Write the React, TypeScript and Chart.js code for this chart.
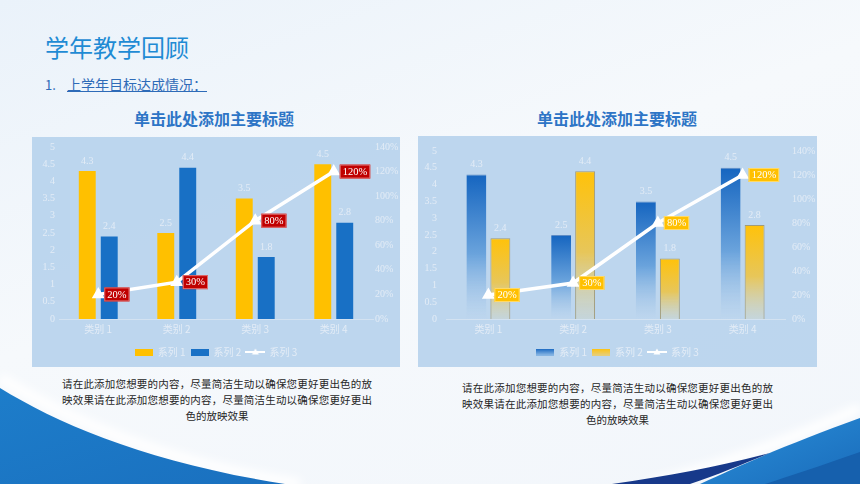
import React, { useEffect, useRef } from "react";
import { Chart, registerables } from "chart.js";
Chart.register(...registerables);

const categories = ["类别 1", "类别 2", "类别 3", "类别 4"];
const series1 = [4.3, 2.5, 3.5, 4.5];
const series2 = [2.4, 4.4, 1.8, 2.8];
const series3 = [20, 30, 80, 120];
const seriesNames = ["系列 1", "系列 2", "系列 3"];
const leftAxis = { min: 0, max: 5, step: 0.5 };
const rightAxis = { min: 0, max: 140, step: 20 };

const pageTitle = "学年教学回顾";
const subTitleNo = "1.";
const subTitle = "上学年目标达成情况：";
const chartTitle = "单击此处添加主要标题";
const descLines = [
  "请在此添加您想要的内容，尽量简洁生动以确保您更好更出色的放",
  "映效果请在此添加您想要的内容，尽量简洁生动以确保您更好更出",
  "色的放映效果",
];

const LIGHT = "#e3ecf6";
const TICK_FONT = { family: '"Liberation Serif", serif', size: 10 };
const CAT_FONT = { family: '"Noto Sans CJK SC", sans-serif', size: 10 };

function makeIcon(w: number, h: number, draw: (c: CanvasRenderingContext2D) => void) {
  const c = document.createElement("canvas");
  c.width = w;
  c.height = h;
  const ctx = c.getContext("2d")!;
  draw(ctx);
  return c;
}

function lineIcon() {
  return makeIcon(20, 8, (c) => {
    c.strokeStyle = "#ffffff";
    c.lineWidth = 2;
    c.beginPath();
    c.moveTo(0, 4);
    c.lineTo(20, 4);
    c.stroke();
    c.fillStyle = "#ffffff";
    c.beginPath();
    c.moveTo(10, 0.5);
    c.lineTo(13.5, 6.5);
    c.lineTo(6.5, 6.5);
    c.closePath();
    c.fill();
  });
}

const labelPlugin = {
  id: "valueLabels",
  afterDatasetsDraw(chart: any, _args: any, opts: any) {
    const ctx = chart.ctx;
    ctx.save();
    chart.data.datasets.forEach((ds: any, di: number) => {
      const meta = chart.getDatasetMeta(di);
      meta.data.forEach((el: any, i: number) => {
        const v = ds.data[i];
        if (ds.type === "line") {
          const text = v + "%";
          ctx.font = '10.5px "Liberation Serif", serif';
          const w = ctx.measureText(text).width + 6;
          const h = 14;
          const x = el.x + 6;
          const y = el.y - h / 2;
          ctx.fillStyle = opts.boxColor;
          ctx.fillRect(x, y, w, h);
          ctx.strokeStyle = opts.boxBorder;
          ctx.lineWidth = 1;
          ctx.strokeRect(x + 0.5, y + 0.5, w - 1, h - 1);
          ctx.fillStyle = "#ffffff";
          ctx.textAlign = "left";
          ctx.textBaseline = "middle";
          ctx.fillText(text, x + 3, el.y + 0.5);
        } else {
          ctx.font = '10px "Liberation Serif", serif';
          ctx.fillStyle = LIGHT;
          ctx.textAlign = "center";
          ctx.textBaseline = "middle";
          ctx.fillText(String(v), el.x, el.y - 10);
        }
      });
    });
    ctx.restore();
  },
};

type Variant = {
  width: number;
  height: number;
  leftW: number;
  rightW: number;
  top: number;
  leftPad: number;
  rightPad: number;
  catPct: number;
  barPct: number;
  gradient: boolean;
  boxColor: string;
  boxBorder: string;
};

function gradFill(context: any, top: string, mid: string, bottom: string) {
  const chart = context.chart;
  if (!chart.chartArea || context.raw === undefined) return top;
  const ys = chart.scales.y;
  const y0 = ys.getPixelForValue(context.raw);
  const y1 = ys.getPixelForValue(0);
  const g = chart.ctx.createLinearGradient(0, y0, 0, y1);
  g.addColorStop(0, top);
  g.addColorStop(0.55, mid);
  g.addColorStop(1, bottom);
  return g;
}

function ComboChart({ v }: { v: Variant }) {
  const ref = useRef<HTMLCanvasElement>(null);
  useEffect(() => {
    const blue = "#1870c5";
    const yellow = "#ffc000";
    const blueFill = v.gradient
      ? (c: any) => gradFill(c, "#1565c0", "#6aa3dc", "rgba(190,214,238,0.4)")
      : blue;
    const yellowFill = v.gradient
      ? (c: any) => gradFill(c, "#ffc20a", "#e7c65a", "rgba(205,212,200,0.5)")
      : yellow;
    const s1Color = v.gradient ? blueFill : yellowFill;
    const s2Color = v.gradient ? yellowFill : blueFill;

    const mkBox = (kind: string) =>
      makeIcon(18, 7, (c) => {
        if (v.gradient) {
          const g = c.createLinearGradient(0, 0, 0, 7);
          if (kind === "blue") {
            g.addColorStop(0, "#1565c0");
            g.addColorStop(1, "#8fbbe6");
          } else {
            g.addColorStop(0, "#ffc20a");
            g.addColorStop(1, "#e6cf80");
          }
          c.fillStyle = g;
        } else {
          c.fillStyle = kind === "blue" ? blue : yellow;
        }
        c.fillRect(0, 0, 18, 7);
      });
    const icons = v.gradient
      ? [mkBox("blue"), mkBox("yellow"), lineIcon()]
      : [mkBox("yellow"), mkBox("blue"), lineIcon()];

    const chart = new Chart(ref.current!, {
      type: "bar",
      data: {
        labels: categories,
        datasets: [
          {
            type: "bar",
            label: seriesNames[0],
            data: series1,
            backgroundColor: s1Color as any,
            borderColor: v.gradient ? "rgba(30,90,170,0.6)" : "rgba(255,220,120,0.6)",
            borderWidth: v.gradient ? { top: 1, left: 0, right: 0, bottom: 0 } : 0,
            yAxisID: "y",
            categoryPercentage: v.catPct,
            barPercentage: v.barPct,
            order: 1,
          },
          {
            type: "bar",
            label: seriesNames[1],
            data: series2,
            backgroundColor: s2Color as any,
            borderColor: v.gradient ? "rgba(150,130,70,0.7)" : "rgba(90,150,220,0.6)",
            borderWidth: v.gradient ? 1 : 0,
            yAxisID: "y",
            categoryPercentage: v.catPct,
            barPercentage: v.barPct,
            order: 1,
          },
          {
            type: "line",
            label: seriesNames[2],
            data: series3,
            borderColor: "#ffffff",
            backgroundColor: "#ffffff",
            borderWidth: 3.5,
            pointStyle: "triangle",
            pointRadius: 4,
            pointBackgroundColor: "#ffffff",
            pointBorderColor: "#ffffff",
            yAxisID: "y1",
            tension: 0,
            order: 0,
          } as any,
        ],
      },
      options: {
        animation: false,
        responsive: false,
        maintainAspectRatio: false,
        layout: { padding: { top: v.top, left: 0, right: 0, bottom: 0 } },
        scales: {
          x: {
            grid: { display: false, drawTicks: false },
            border: { display: true, color: "#d3e2f1", width: 1 },
            ticks: { color: LIGHT, font: CAT_FONT, padding: 4, maxRotation: 0, minRotation: 0, autoSkip: false },
            afterFit: (s: any) => {
              s.height = 23;
            },
          },
          y: {
            position: "left",
            min: leftAxis.min,
            max: leftAxis.max,
            grid: { display: false, drawTicks: false },
            border: { display: false },
            ticks: {
              stepSize: leftAxis.step,
              color: LIGHT,
              font: TICK_FONT,
              padding: v.leftPad,
              callback: (val: any) => String(val),
            },
            afterFit: (s: any) => {
              s.width = v.leftW;
            },
          },
          y1: {
            position: "right",
            min: rightAxis.min,
            max: rightAxis.max,
            grid: { display: false, drawTicks: false },
            border: { display: false },
            ticks: {
              stepSize: rightAxis.step,
              color: LIGHT,
              font: TICK_FONT,
              padding: v.rightPad,
              callback: (val: any) => val + "%",
            },
            afterFit: (s: any) => {
              s.width = v.rightW;
            },
          },
        },
        plugins: {
          tooltip: { enabled: false },
          legend: {
            position: "bottom",
            labels: {
              color: LIGHT,
              font: { family: '"Noto Sans CJK SC", sans-serif', size: 10 },
              usePointStyle: true,
              pointStyleWidth: 18,
              boxHeight: 7,
              padding: 5,
              sort: (a: any, b: any) => a.datasetIndex - b.datasetIndex,
              generateLabels: (ch: any) =>
                Chart.defaults.plugins.legend.labels
                  .generateLabels(ch)
                  .map((l: any) => ({ ...l, pointStyle: icons[l.datasetIndex] })),
            },
          },
          valueLabels: { boxColor: v.boxColor, boxBorder: v.boxBorder },
        } as any,
      },
      plugins: [labelPlugin],
    });
    return () => chart.destroy();
  }, []);
  return <canvas ref={ref} width={v.width} height={v.height} style={{ display: "block" }} />;
}

const v1: Variant = {
  width: 368,
  height: 230,
  leftW: 27,
  rightW: 27,
  top: 9,
  leftPad: 4,
  rightPad: 2,
  catPct: 0.56,
  barPct: 0.77,
  gradient: false,
  boxColor: "#c00000",
  boxBorder: "#e07070",
};
const v2: Variant = {
  width: 399,
  height: 231,
  leftW: 28,
  rightW: 32,
  top: 10,
  leftPad: 9,
  rightPad: 7,
  catPct: 0.566,
  barPct: 0.83,
  gradient: true,
  boxColor: "#ffc000",
  boxBorder: "#ffd966",
};

function Desc({ left, top, width }: { left: number; top: number; width: number }) {
  return (
    <div
      style={{
        position: "absolute",
        left,
        top,
        width,
        fontSize: 10.5,
        lineHeight: "16px",
        color: "#262626",
        fontFamily: '"Noto Sans CJK SC", sans-serif',
      }}
    >
      {descLines.map((t, i) => (
        <div
          key={i}
          style={{
            textAlign: i < descLines.length - 1 ? "justify" : "center",
            textAlignLast: i < descLines.length - 1 ? "justify" : "center",
            whiteSpace: "nowrap",
          }}
        >
          {t}
        </div>
      ))}
    </div>
  );
}

export default function App() {
  return (
    <div
      style={{
        position: "fixed",
        left: 0,
        top: 0,
        width: 860,
        height: 484,
        overflow: "hidden",
        background: "linear-gradient(160deg, #eaf2fa 0%, #f6f9fc 45%, #f2f6fb 100%)",
        fontFamily: '"Noto Sans CJK SC", sans-serif',
      }}
    >
      <svg width={860} height={484} style={{ position: "absolute", left: 0, top: 0 }}>
        <defs>
          <linearGradient id="lg1" x1="0" y1="0" x2="1" y2="1">
            <stop offset="0" stopColor="#1d7dca" />
            <stop offset="1" stopColor="#1a70bf" />
          </linearGradient>
          <linearGradient id="rg1" x1="0" y1="0" x2="1" y2="1">
            <stop offset="0" stopColor="#2a8fd9" />
            <stop offset="1" stopColor="#1a6cbb" />
          </linearGradient>
          <filter id="blur4">
            <feGaussianBlur stdDeviation="4" />
          </filter>
        </defs>
        <path d="M0 378 C 70 420, 160 462, 300 484" stroke="#ffffff" strokeWidth={10} fill="none" filter="url(#blur4)" />
        <path d="M0 388 C 60 425, 150 463, 285 484 L 0 484 Z" fill="url(#lg1)" />
        <path d="M860 408 C 800 435, 740 460, 650 484" stroke="#ffffff" strokeWidth={10} fill="none" filter="url(#blur4)" />
        <path d="M860 418 C 800 440, 760 456, 700 484 L 860 484 Z" fill="url(#rg1)" />
        <path d="M770 453 C 720 466, 670 476, 612 484 L 690 484 C 720 474, 745 463, 770 453 Z" fill="#17398a" />
        <path d="M860 452 C 820 466, 790 476, 765 484 L 860 484 Z" fill="#1660ad" />
      </svg>

      <div
        style={{
          position: "absolute",
          left: 45,
          top: 33,
          fontSize: 24,
          lineHeight: "28px",
          color: "#1f8bd4",
        }}
      >
        {pageTitle}
      </div>
      <div style={{ position: "absolute", left: 45, top: 76, fontSize: 13, lineHeight: "18px", color: "#2e6bb8" }}>
        {subTitleNo}
      </div>
      <div
        style={{
          position: "absolute",
          left: 67,
          top: 75,
          fontSize: 14,
          lineHeight: "18px",
          color: "#2e6bb8",
          textDecoration: "underline",
        }}
      >
        {subTitle}
      </div>

      <div
        style={{
          position: "absolute",
          left: 114,
          width: 200,
          top: 107,
          fontSize: 16,
          lineHeight: "22px",
          textAlign: "center",
          color: "#2e75c6",
          fontWeight: 700,
        }}
      >
        {chartTitle}
      </div>
      <div
        style={{
          position: "absolute",
          left: 517,
          width: 200,
          top: 107,
          fontSize: 16,
          lineHeight: "22px",
          textAlign: "center",
          color: "#2e75c6",
          fontWeight: 700,
        }}
      >
        {chartTitle}
      </div>

      <div style={{ position: "absolute", left: 32, top: 137, width: 368, height: 230, background: "rgba(183,211,237,0.92)" }}>
        <ComboChart v={v1} />
      </div>
      <div style={{ position: "absolute", left: 418, top: 136, width: 399, height: 231, background: "rgba(183,211,237,0.92)" }}>
        <ComboChart v={v2} />
      </div>

      <Desc left={62} top={376} width={310} />
      <Desc left={462} top={380} width={311} />
    </div>
  );
}
